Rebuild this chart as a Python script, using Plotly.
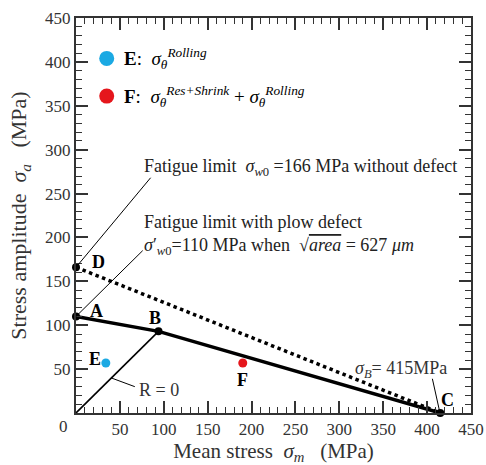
import plotly.graph_objects as go

# Haigh diagram: key points (mean stress, stress amplitude) in MPa
point_names = ["A", "B", "C", "D"]
sigma_m_pts = [0, 94, 415, 0]
sigma_a_pts = [110, 93, 0, 166]

# Measured states
state_names = ["E", "F"]
sigma_m_states = [34, 190]
sigma_a_states = [57, 57]

# Legend marker positions
legend_m = [35, 35]
legend_a = [404, 361]

tick_vals = [50, 100, 150, 200, 250, 300, 350, 400, 450]

BLUE = "#1BA9E3"
RED = "#E5161C"
SERIF = "Liberation Serif"

pt = dict(zip(point_names, zip(sigma_m_pts, sigma_a_pts)))

fig = go.Figure()

# Modified Goodman line without defect: D -> C (dotted)
fig.add_trace(go.Scatter(
    x=[pt["D"][0], pt["C"][0]], y=[pt["D"][1], pt["C"][1]],
    mode="lines", line=dict(color="black", width=3.5, dash="dot"),
    hoverinfo="skip"))

# Bilinear limit with plow defect: A -> B -> C
fig.add_trace(go.Scatter(
    x=[pt["A"][0], pt["B"][0], pt["C"][0]],
    y=[pt["A"][1], pt["B"][1], pt["C"][1]],
    mode="lines", line=dict(color="black", width=3.5),
    hoverinfo="skip"))

# R = 0 loading line from origin to B
fig.add_trace(go.Scatter(
    x=[0, pt["B"][0]], y=[0, pt["B"][1]],
    mode="lines", line=dict(color="black", width=1.6),
    hoverinfo="skip"))

# Key point markers
fig.add_trace(go.Scatter(
    x=sigma_m_pts, y=sigma_a_pts, mode="markers",
    marker=dict(color="black", size=8), cliponaxis=False,
    hoverinfo="skip"))

# States E and F
fig.add_trace(go.Scatter(
    x=sigma_m_states, y=sigma_a_states, mode="markers",
    marker=dict(color=[BLUE, RED], size=9), hoverinfo="skip"))

# Legend markers
fig.add_trace(go.Scatter(
    x=legend_m, y=legend_a, mode="markers",
    marker=dict(color=[BLUE, RED], size=15), hoverinfo="skip"))

# Invisible trace so the mirrored top/right axes get drawn
fig.add_trace(go.Scatter(x=[None], y=[None], xaxis="x2", yaxis="y2",
                         mode="markers", hoverinfo="skip"))

# Leader lines
leaders = [
    ((pt["D"][0], pt["D"][1]), (85, 268)),
    ((pt["A"][0], pt["A"][1]), (76, 185)),
    ((40, 40), (67, 30)),
    ((414, 3), (406, 39)),
]
for (x0, y0), (x1, y1) in leaders:
    fig.add_shape(type="line", x0=x0, y0=y0, x1=x1, y1=y1,
                  xref="x", yref="y", line=dict(color="black", width=1))

# Point letters
shifts = {"A": (20, 5), "B": (-4, 13), "C": (7, 13), "D": (22, 5)}
for name, xm, ya in zip(point_names, sigma_m_pts, sigma_a_pts):
    dx, dy = shifts[name]
    fig.add_annotation(x=xm, y=ya, text=f"<b>{name}</b>", showarrow=False,
                       xshift=dx, yshift=dy,
                       font=dict(family=SERIF, size=18, color="black"))
state_shifts = {"E": (-11, 4), "F": (0, -17)}
for name, xm, ya in zip(state_names, sigma_m_states, sigma_a_states):
    dx, dy = state_shifts[name]
    fig.add_annotation(x=xm, y=ya, text=f"<b>{name}</b>", showarrow=False,
                       xshift=dx, yshift=dy,
                       font=dict(family=SERIF, size=18, color="black"))

txt_font = dict(family=SERIF, size=18, color="#222")

# Legend text
fig.add_annotation(x=52, y=legend_a[0], xanchor="left", showarrow=False,
                   text="<b>E</b>:  <i>σ</i><sub><i>θ</i></sub><sup><i>Rolling</i></sup>",
                   font=dict(family=SERIF, size=19, color="black"))
fig.add_annotation(x=52, y=legend_a[1], xanchor="left", showarrow=False,
                   text="<b>F</b>:  <i>σ</i><sub><i>θ</i></sub><sup><i>Res+Shrink</i></sup> + "
                        "<i>σ</i><sub><i>θ</i></sub><sup><i>Rolling</i></sup>",
                   font=dict(family=SERIF, size=19, color="black"))

# Fatigue limit notes
fig.add_annotation(x=75, y=280, xanchor="left", showarrow=False,
                   text="Fatigue limit  <i>σ</i><sub><i>w</i>0</sub> =166 MPa without defect",
                   font=txt_font)
fig.add_annotation(x=75, y=218, xanchor="left", showarrow=False,
                   text="Fatigue limit with plow defect", font=txt_font)
fig.add_annotation(x=75, y=190, xanchor="left", showarrow=False,
                   text="<i>σ</i>′<sub><i>w</i>0</sub>=110 MPa when  √"
                        "<span style='text-decoration:overline'><i>area</i></span>"
                        " = 627 <i>μm</i>",
                   font=txt_font)
fig.add_annotation(x=370, y=50, showarrow=False,
                   text="<i>σ</i><sub><i>B</i></sub>= 415MPa",
                   font=dict(family=SERIF, size=18, color="#333"))
fig.add_annotation(x=69, y=26, xanchor="left", showarrow=False,
                   text="R = 0", font=dict(family=SERIF, size=18, color="#333"))

# Corner zero
fig.add_annotation(xref="paper", yref="paper", x=-0.015, y=-0.004,
                   xanchor="right", yanchor="top", showarrow=False,
                   text="0", font=dict(family=SERIF, size=17, color="#333"))

minor_ticks = dict(dtick=10, ticks="inside", ticklen=6, tickwidth=1.2,
                   tickcolor="#333", showgrid=False)
axis_common = dict(
    range=[0, 450], tickvals=tick_vals, ticks="inside", ticklen=12,
    tickwidth=1.5, tickcolor="#333", showline=True, linewidth=2,
    linecolor="#333", showgrid=False, zeroline=False, minor=minor_ticks,
    tickfont=dict(family=SERIF, size=17, color="#333"),
)

fig.update_layout(
    width=486, height=465,
    margin=dict(l=76, r=15, t=18, b=52, autoexpand=False),
    plot_bgcolor="white", paper_bgcolor="white",
    showlegend=False,
    xaxis=dict(**axis_common,
               title=dict(text="Mean stress  <i>σ</i><sub><i>m</i></sub>   (MPa)",
                          font=dict(family=SERIF, size=21, color="#333"),
                          standoff=3)),
    yaxis=dict(**axis_common,
               title=dict(text="Stress amplitude  <i>σ</i><sub><i>a</i></sub>   (MPa)",
                          font=dict(family=SERIF, size=22, color="#333"),
                          standoff=12)),
    xaxis2=dict(**axis_common, overlaying="x", side="top", showticklabels=False),
    yaxis2=dict(**axis_common, overlaying="y", side="right", showticklabels=False),
)

fig.write_html("out.html")
